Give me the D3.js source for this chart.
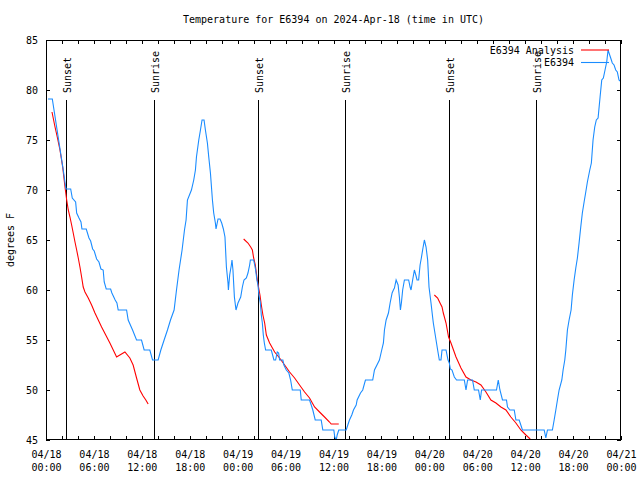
<!DOCTYPE html>
<html><head><meta charset="utf-8">
<script src="https://cdn.jsdelivr.net/npm/d3@7"></script>
<style>
body{margin:0;background:#fff}
svg{display:block}
text{font-family:"DejaVu Sans Mono","Liberation Mono",monospace;font-size:10px;fill:#000}
</style>
</head><body>
<svg id="chart" width="640" height="480"></svg>
<script>
const chartTitle = "Temperature for E6394 on 2024-Apr-18 (time in UTC)";
const yAxisLabel = "degrees F";
const startUtc = Date.UTC(2024, 3, 18, 0, 0);
const spanHours = 72;

// Observed station temperatures (hours after 04/18 00:00 UTC)
const stationHours = [0.25,0.79,2.16,2.5,3.09,3.29,3.71,3.84,4.13,4.38,4.5,5.04,5.38,5.59,5.84,6.04,6.34,6.63,6.88,7.16,7.29,7.54,8.09,8.25,8.66,8.88,9.04,10.09,10.29,10.84,11.34,11.96,12.29,13.0,13.34,14.04,14.38,14.79,15.21,15.59,16.04,16.34,16.66,17.04,17.34,17.54,17.71,18.21,18.5,18.71,18.84,19.13,19.34,19.54,19.79,19.96,20.21,20.38,20.59,20.84,21.0,21.21,21.29,21.54,21.79,22.0,22.21,22.41,22.59,22.79,22.84,23.0,23.21,23.29,23.41,23.59,23.79,24.04,24.38,24.59,24.79,25.09,25.29,25.5,25.59,26.0,26.13,26.25,26.41,26.54,26.66,26.84,26.96,27.09,27.21,27.34,27.5,28.21,28.54,28.75,28.96,29.13,29.25,29.66,29.79,30.09,30.41,30.63,30.84,31.84,31.96,33.0,33.21,33.41,33.71,34.46,34.66,36.04,36.16,36.34,36.46,36.66,37.59,37.79,38.0,38.29,38.5,38.84,38.96,39.38,39.66,40.0,40.91,41.13,41.75,42.04,42.25,42.38,42.59,42.88,43.09,43.34,43.5,43.63,43.84,44.09,44.25,44.38,44.5,44.66,44.88,45.41,45.59,45.71,45.91,46.13,46.34,46.46,46.66,46.84,47.0,47.16,47.38,47.59,47.79,47.96,48.21,48.41,48.5,48.84,49.04,49.25,49.46,49.59,50.09,50.34,50.5,50.63,50.84,51.13,51.41,52.38,52.59,52.79,53.41,53.63,54.16,54.38,54.54,56.41,56.63,56.84,57.16,57.66,57.79,58.09,58.63,58.84,59.25,59.66,62.38,62.59,62.79,63.41,63.63,63.84,64.04,64.25,64.59,64.75,64.96,65.09,65.29,65.5,65.75,65.91,66.13,66.34,66.54,66.75,66.96,67.16,67.38,67.59,67.79,68.09,68.29,68.5,68.71,68.91,69.13,69.38,69.59,69.79,70.0,70.21,70.38,70.5,70.71,70.91,71.13,71.34,71.54,71.75,71.88];
const stationTemps = [79.1,79.1,72,70.1,70.1,69.2,68.8,67.7,67.2,66.8,66.1,66.1,65.2,64.9,64.1,63.9,63.1,62.8,62.1,62,60.8,60.1,60.1,59.7,59,58.7,58,58,57,56,55,55,54,54,53,53,54,55,56,57,58,60,62,64,66,67,69,70,71,72,73.3,75,76,77,77,76,74.7,73.3,71.7,69,67.7,66.7,66.1,67.1,67.1,66.7,66.1,65.3,62.3,60.7,60,61.5,62.5,63,62,59.3,58,58.7,59.3,60.3,61,61.2,61.7,62.5,63,63,62.5,62,61,60.5,59.5,58.7,57.5,56.7,55.5,54.7,54,54,53,53,53.8,53.7,53,53,52.5,52,51.7,51,50,50,49,49,48.5,48,47,47,46,46,45.3,45,45.5,46,46,46.5,47,47.5,48,48.5,49,49.7,50,51,51,52,53,54,54.7,56,57,57.7,58.7,59.7,60,60.2,61,60.5,59.3,58,58.7,60,61,61,60.3,60,61,62,61.4,61,61,62.5,63.2,64,65,64.3,63,60.3,58.7,57.3,56.7,55,54,53,53,54,54,53,52.7,52.1,52,51.3,51,51,50,51,51,50,50,49,50,50,51,50,49,49,48.3,48,48,47,47,46,46,45.2,46,46,47,48,49,50,51,52,53,54,56,57,58,59.5,61,62.2,63.2,64.7,66.3,67.7,68.8,69.8,70.8,72,72.7,75,76.3,77,77.2,79.3,81,81.2,82,82.8,84,83.7,83.2,82.7,82.5,82,81.8,81,80.9];

// Analysis temperatures (null = gap between runs)
const analysisHours = [0.75,1.13,1.41,1.75,2.09,2.38,2.59,2.79,3.0,3.21,3.41,3.63,3.84,4.04,4.25,4.46,4.66,4.88,5.29,5.71,6.13,6.96,8.0,8.84,9.25,9.88,10.5,10.91,11.34,11.75,12.16,12.5,12.79,
  null,
  24.75,25.29,25.63,25.84,26.0,26.21,26.34,26.46,26.63,26.79,26.96,27.16,27.38,27.59,28.0,28.63,29.25,29.88,30.5,31.13,31.75,32.38,33.0,33.63,34.25,34.88,35.5,35.71,36.66,
  null,
  48.63,49.04,49.34,49.59,49.75,50.09,50.41,50.71,51.34,51.96,52.59,53.21,53.84,54.46,55.09,55.71,56.34,56.96,57.59,58.21,58.84,59.46,60.09,60.63];
const analysisTemps = [77.8,76.3,75.3,74,72.3,70.3,69,68,67.3,66.5,65.7,64.8,64,63.2,62.3,61.3,60.3,59.8,59.2,58.5,57.7,56.3,54.7,53.3,53.5,53.8,53.2,52.5,51.2,50,49.4,49,48.6,
  null,
  65.1,64.7,64.3,64,63.2,62.5,61.7,61,60.2,59.5,58.5,57.5,56.7,55.5,54.7,53.8,53.2,52.5,51.8,51.2,50.5,49.8,49.2,48.3,47.8,47.3,46.8,46.6,46.6,
  null,
  59.5,59.2,58.7,58.3,57.7,56.7,55.3,54.7,53.3,52.2,51.3,51,50.8,50.5,49.8,49,48.7,48.3,48,47.3,46.7,46,45.5,45.1];

const sunHours = [2.5, 13.5, 26.5, 37.4, 50.5, 61.4];
const sunLabels = ["Sunset", "Sunrise", "Sunset", "Sunrise", "Sunset", "Sunrise"];
const yTicks = [45, 50, 55, 60, 65, 70, 75, 80, 85];
const legendLabels = ["E6394 Analysis", "E6394"];
const seriesColors = ["#ff0000", "#1a8cff"];

const W = 640, H = 480;
const m = {left: 46, right: 19, top: 40, bottom: 40};
const svg = d3.select("#chart");
const toDate = h => new Date(startUtc + h * 3600e3);

const x = d3.scaleUtc().domain([toDate(0), toDate(spanHours)]).range([m.left, W - m.right]);
const y = d3.scaleLinear().domain([45, 85]).range([H - m.bottom, m.top]);

// title
svg.append("text").attr("x", (m.left + W - m.right) / 2).attr("y", 23)
  .attr("text-anchor", "middle").text(chartTitle);
// y label
svg.append("text").attr("transform", `translate(14,${(m.top + H - m.bottom) / 2}) rotate(-90)`)
  .attr("text-anchor", "middle").text(yAxisLabel);

const g = svg.append("g");
const tickLen = 4;
const majorTicks = d3.utcHour.every(6).range(toDate(0), toDate(spanHours + 0.01));
const minorTicks = d3.utcHour.every(2).range(toDate(0), toDate(spanHours + 0.01));

// bottom axis (minor + labelled major)
const xb = g.append("g").attr("transform", `translate(0,${H - m.bottom})`)
  .call(d3.axisBottom(x).tickValues(minorTicks).tickSizeInner(-tickLen).tickSizeOuter(0).tickFormat(""));
xb.select(".domain").remove();
const xl = g.append("g").attr("transform", `translate(0,${H - m.bottom})`)
  .call(d3.axisBottom(x).tickValues(majorTicks).tickSize(0).tickFormat(""));
xl.select(".domain").remove();
const fDay = d3.utcFormat("%m/%d"), fTime = d3.utcFormat("%H:%M");
xl.selectAll(".tick").each(function(d) {
  const t = d3.select(this).append("text").attr("text-anchor", "middle").attr("fill", "#000");
  t.append("tspan").attr("x", 0).attr("y", 18).text(fDay(d));
  t.append("tspan").attr("x", 0).attr("y", 31).text(fTime(d));
});
// top axis mirror
const xt = g.append("g").attr("transform", `translate(0,${m.top})`)
  .call(d3.axisTop(x).tickValues(minorTicks).tickSizeInner(-tickLen).tickSizeOuter(0).tickFormat(""));
xt.select(".domain").remove();

// left axis
const yl = g.append("g").attr("transform", `translate(${m.left},0)`)
  .call(d3.axisLeft(y).tickValues(yTicks).tickSizeInner(-tickLen).tickSizeOuter(0).tickPadding(8));
yl.select(".domain").remove();
yl.selectAll("text").attr("font-size", null).attr("font-family", null).attr("dy", "0.35em");
// right axis mirror
const yr = g.append("g").attr("transform", `translate(${W - m.right},0)`)
  .call(d3.axisRight(y).tickValues(yTicks).tickSizeInner(-tickLen).tickSizeOuter(0).tickFormat(""));
yr.select(".domain").remove();
svg.selectAll(".tick line").attr("stroke", "#000").attr("shape-rendering", "crispEdges");
svg.selectAll("g").attr("font-family", null).attr("font-size", null);

// sunrise / sunset markers
const sunG = svg.append("g");
sunHours.forEach((h, i) => {
  const sx = Math.round(x(toDate(h))) + 0.5;
  sunG.append("line").attr("x1", sx).attr("x2", sx).attr("y1", y(79)).attr("y2", y(45))
    .attr("stroke", "#000").attr("stroke-width", 1);
  sunG.append("text").attr("transform", `translate(${sx + 1},${y(79) - 7}) rotate(-90)`)
    .attr("dominant-baseline", "central").text(sunLabels[i]);
});

// data lines
const clip = svg.append("clipPath").attr("id", "plotclip").append("rect")
  .attr("x", m.left).attr("y", m.top).attr("width", W - m.left - m.right).attr("height", H - m.top - m.bottom);

const analysisData = analysisHours.map((h, i) => ({h, v: analysisTemps[i]}));
const stationData = stationHours.map((h, i) => ({h, v: stationTemps[i]}));
const line = d3.line().defined(d => d.h !== null && d.v !== null)
  .x(d => x(toDate(d.h))).y(d => y(d.v));

svg.append("path").datum(analysisData).attr("d", line).attr("fill", "none")
  .attr("stroke", seriesColors[0]).attr("stroke-width", 1.1).attr("clip-path", "url(#plotclip)");
svg.append("path").datum(stationData).attr("d", line).attr("fill", "none")
  .attr("stroke", seriesColors[1]).attr("stroke-width", 1.1).attr("clip-path", "url(#plotclip)");

// legend
const lg = svg.append("g");
legendLabels.forEach((lab, i) => {
  const ly = 50 + i * 12.5;
  lg.append("text").attr("x", 574).attr("y", ly).attr("dy", "0.35em").attr("text-anchor", "end").text(lab);
  lg.append("line").attr("x1", 581).attr("x2", 609).attr("y1", ly).attr("y2", ly)
    .attr("stroke", seriesColors[i]).attr("stroke-width", 1.1);
});

// frame
svg.append("rect").attr("x", m.left + 0.5).attr("y", m.top + 0.5)
  .attr("width", W - m.left - m.right - 1).attr("height", H - m.top - m.bottom - 1)
  .attr("fill", "none").attr("stroke", "#000").attr("shape-rendering", "crispEdges");
</script>
</body></html>
